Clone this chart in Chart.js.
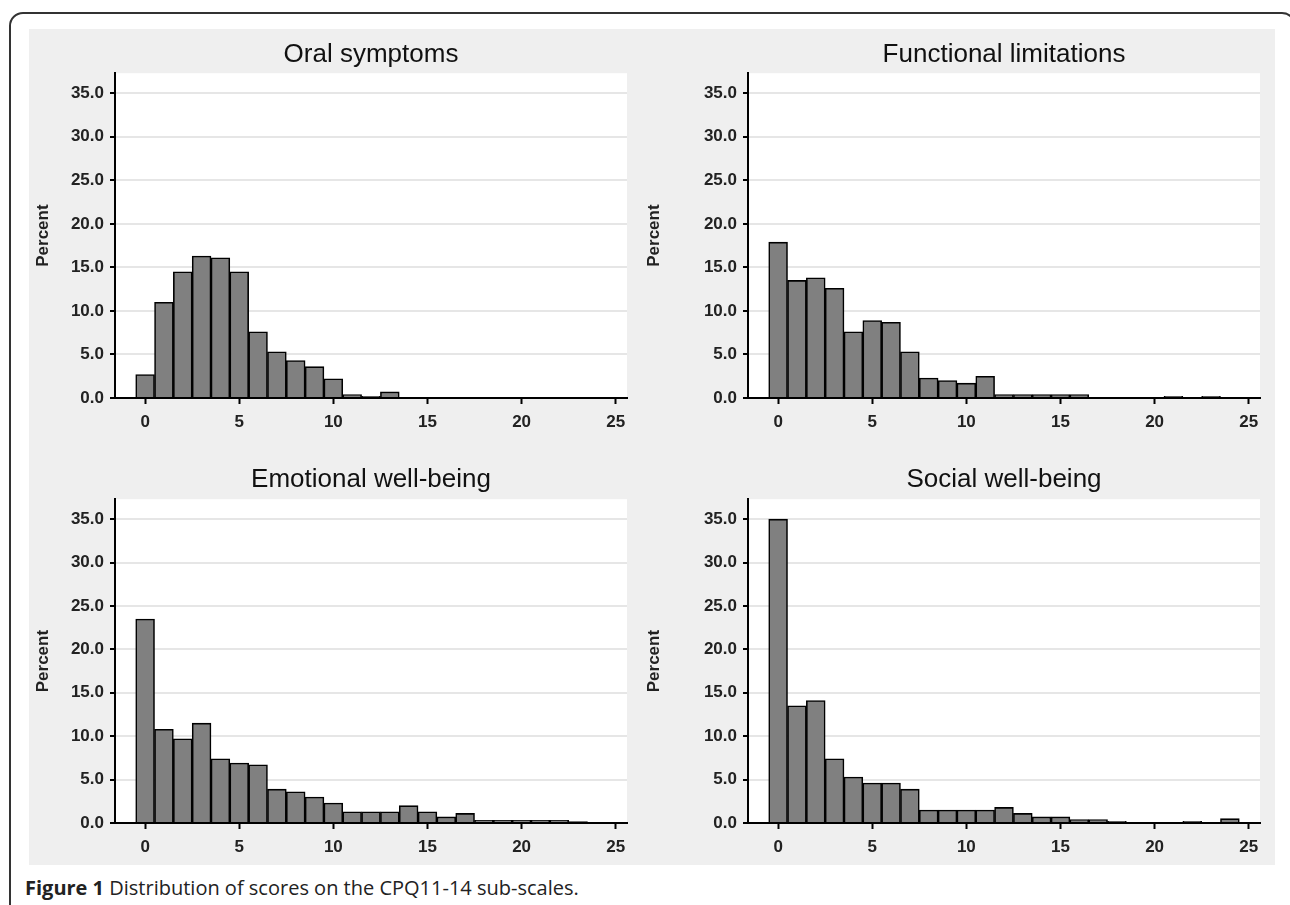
<!DOCTYPE html>
<html>
<head>
<meta charset="utf-8">
<script src="https://cdn.jsdelivr.net/npm/chart.js@4.4.1/dist/chart.umd.min.js"></script>
<style>
body { margin: 0; width: 1290px; height: 905px; overflow: hidden; position: relative; background: #fff; font-family: "Liberation Sans", Arial, sans-serif; }
#frame { position: absolute; left: 9px; top: 12px; width: 1287px; height: 1000px; border: 2px solid #333; border-radius: 14px; box-sizing: border-box; }
#panel { position: absolute; left: 29px; top: 29px; width: 1246px; height: 836px; background: #efefef; }
canvas { position: absolute; }
#caption { position: absolute; left: 25px; top: 874px; font-family: "Open Sans", sans-serif; font-size: 20px; color: #222; white-space: nowrap; }
#caption b { font-weight: 700; }
</style>
</head>
<body>
<div id="frame"></div>
<div id="panel"></div>
<canvas id="c1" width="611" height="411" style="left:29px;top:29px"></canvas>
<canvas id="c2" width="635" height="411" style="left:640px;top:29px"></canvas>
<canvas id="c3" width="611" height="425" style="left:29px;top:440px"></canvas>
<canvas id="c4" width="635" height="425" style="left:640px;top:440px"></canvas>
<div id="caption"><b>Figure 1</b> Distribution of scores on the CPQ11-14 sub-scales.</div>
<script>
// scores 0..25, percent of children per score
const scores = [0,1,2,3,4,5,6,7,8,9,10,11,12,13,14,15,16,17,18,19,20,21,22,23,24,25];
const oralSymptoms = [2.7, 11.0, 14.5, 16.3, 16.1, 14.5, 7.6, 5.3, 4.3, 3.6, 2.2, 0.4, 0.2, 0.7, 0, 0, 0, 0, 0, 0, 0, 0, 0, 0, 0, 0];
const functionalLimitations = [17.9, 13.5, 13.8, 12.6, 7.6, 8.9, 8.7, 5.3, 2.3, 2.0, 1.7, 2.5, 0.4, 0.4, 0.4, 0.4, 0.4, 0, 0, 0, 0, 0.2, 0, 0.2, 0, 0];
const emotionalWellBeing = [23.5, 10.8, 9.7, 11.5, 7.4, 6.9, 6.7, 3.9, 3.6, 3.0, 2.3, 1.3, 1.3, 1.3, 2.0, 1.3, 0.7, 1.1, 0.3, 0.3, 0.3, 0.3, 0.3, 0.15, 0, 0];
const socialWellBeing = [35.0, 13.5, 14.1, 7.4, 5.3, 4.6, 4.6, 3.9, 1.5, 1.5, 1.5, 1.5, 1.8, 1.1, 0.7, 0.7, 0.4, 0.4, 0.2, 0, 0, 0, 0.2, 0, 0.5, 0];

const xTicks = [0, 5, 10, 15, 20, 25];
const yTicks = [0, 5, 10, 15, 20, 25, 30, 35];

const titles = ['Oral symptoms', 'Functional limitations', 'Emotional well-being', 'Social well-being'];

const plotBg = {
    id: 'plotBg',
    beforeDraw(chart) {
        const { ctx, chartArea: a } = chart;
        ctx.save();
        ctx.fillStyle = '#fff';
        ctx.fillRect(a.left, a.top, a.right - a.left, a.bottom - a.top);
        ctx.restore();
    }
};

const tickFont = { family: '"Liberation Sans", Arial, sans-serif', size: 17, weight: 'bold' };

function histogram(id, title, values, yWidth, padRight, titlePad) {
    const canvas = document.getElementById(id);
    new Chart(canvas, {
        type: 'bar',
        data: {
            datasets: [{
                data: scores.map((s, i) => ({ x: s, y: values[i] })),
                backgroundColor: '#808080',
                borderColor: '#000',
                borderWidth: 1.6,
                barPercentage: 1,
                categoryPercentage: 1
            }]
        },
        options: {
            responsive: false,
            animation: false,
            devicePixelRatio: 1,
            layout: { padding: { left: 0, right: padRight, top: 0, bottom: 0 } },
            plugins: {
                legend: { display: false },
                tooltip: { enabled: false },
                title: {
                    display: true,
                    text: title,
                    fullSize: false,
                    color: '#111',
                    font: { family: '"Liberation Sans", Arial, sans-serif', size: 26, weight: 'normal' },
                    padding: titlePad
                }
            },
            scales: {
                x: {
                    type: 'linear',
                    min: -1.6,
                    max: 25.6,
                    offset: false,
                    afterBuildTicks: s => { s.ticks = xTicks.map(v => ({ value: v })); },
                    afterFit: s => { s.height = 42; },
                    ticks: { color: '#222', padding: 8, maxRotation: 0, autoSkip: false, font: tickFont },
                    grid: { offset: false, drawOnChartArea: false, drawTicks: true, tickLength: 6, tickColor: '#000', tickWidth: 2 },
                    border: { display: true, color: '#000', width: 2 }
                },
                y: {
                    min: 0,
                    max: 37.3,
                    afterBuildTicks: s => { s.ticks = yTicks.map(v => ({ value: v })); },
                    afterFit: s => { s.width = yWidth; },
                    ticks: { color: '#222', padding: 6, autoSkip: false, callback: v => v.toFixed(1), font: tickFont },
                    grid: { color: '#e6e6e6', lineWidth: 2, tickLength: 5, tickColor: '#000', tickWidth: 2 },
                    border: { display: true, color: '#000', width: 2 },
                    title: {
                        display: true, text: 'Percent', color: '#222', padding: { top: 4, bottom: 0 },
                        font: { family: '"Liberation Sans", Arial, sans-serif', size: 17, weight: 'bold' }
                    }
                }
            }
        },
        plugins: [plotBg]
    });
}

histogram('c1', titles[0], oralSymptoms, 86, 13, { top: 10, bottom: 3 });
histogram('c2', titles[1], functionalLimitations, 108, 15, { top: 10, bottom: 3 });
histogram('c3', titles[2], emotionalWellBeing, 86, 13, { top: 24, bottom: 4 });
histogram('c4', titles[3], socialWellBeing, 108, 15, { top: 24, bottom: 4 });
</script>
</body>
</html>
